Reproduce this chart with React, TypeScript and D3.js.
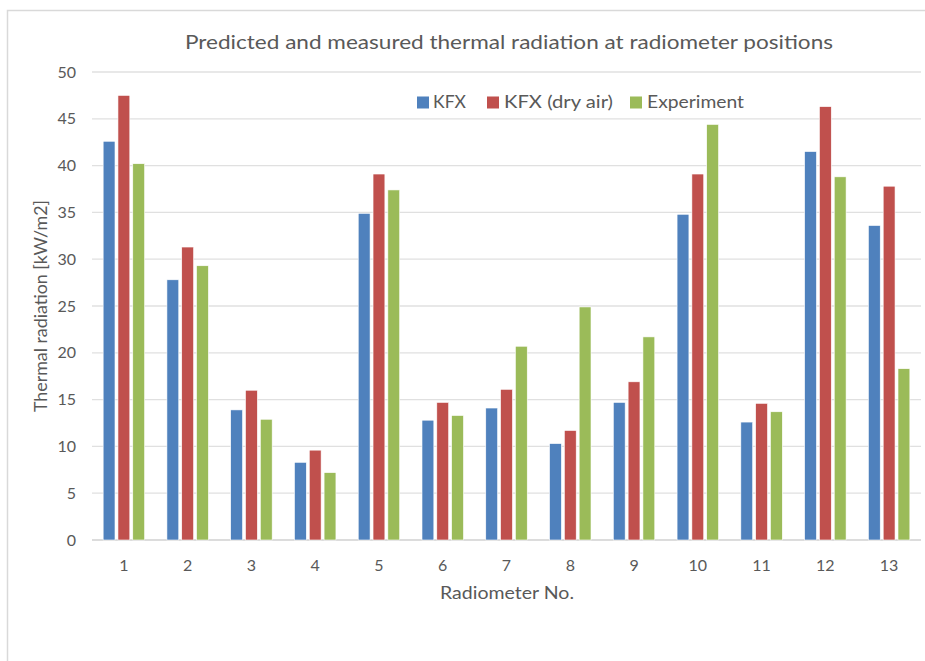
import React from "react";
import * as d3 from "d3";

// Radiometer positions 1..13
const radiometers = ["1", "2", "3", "4", "5", "6", "7", "8", "9", "10", "11", "12", "13"];
const seriesNames = ["KFX", "KFX (dry air)", "Experiment"];
const seriesColors = ["#4F81BD", "#C0504D", "#9BBB59"];

// Thermal radiation [kW/m2]
const kfx = [42.6, 27.8, 13.9, 8.3, 34.9, 12.8, 14.1, 10.3, 14.7, 34.8, 12.6, 41.5, 33.6];
const kfxDryAir = [47.5, 31.3, 16.0, 9.6, 39.1, 14.7, 16.1, 11.7, 16.9, 39.1, 14.6, 46.3, 37.8];
const experiment = [40.2, 29.3, 12.9, 7.2, 37.4, 13.3, 20.7, 24.9, 21.7, 44.4, 13.7, 38.8, 18.3];

const yTicks = [0, 5, 10, 15, 20, 25, 30, 35, 40, 45, 50];

const W = 925;
const H = 661;
const plot = { left: 92, right: 921, top: 72, bottom: 540 };
const FONT = "Lato, 'Open Sans', sans-serif";
const TEXT = "#595959";

export default function App() {
  const series = [kfx, kfxDryAir, experiment];

  const x0 = d3.scaleBand<string>().domain(radiometers).range([plot.left, plot.right]).padding(0);
  const x1 = d3
    .scaleBand<number>()
    .domain([0, 1, 2])
    .range([-23.7, 23.7])
    .padding(0.2);
  const y = d3.scaleLinear().domain([0, 50]).range([plot.bottom, plot.top]);

  const legend = [
    { sx: 417, tx: 433, len: 33 },
    { sx: 487, tx: 504, len: 109 },
    { sx: 630, tx: 647, len: 97 },
  ];

  return (
    <svg
      width={W}
      height={H}
      style={{ position: "absolute", left: 0, top: 0, background: "#fff" }}
      fontFamily={FONT}
    >
      <rect x={7.5} y={10.5} width={W + 10} height={H + 10} fill="#fff" stroke="#d9d9d9" strokeWidth={1.5} />

      <text
        x={509}
        y={49}
        textAnchor="middle"
        fontSize={20}
        fill={TEXT}
        textLength={648}
        lengthAdjust="spacingAndGlyphs"
      >
        Predicted and measured thermal radiation at radiometer positions
      </text>

      {/* gridlines and y tick labels */}
      {yTicks.map((t) => (
        <g key={t}>
          <line
            x1={plot.left}
            x2={plot.right}
            y1={y(t)}
            y2={y(t)}
            stroke={t === 0 ? "#d0d0d0" : "#e0e0e0"}
            strokeWidth={1.3}
          />
          <text x={76} y={y(t)} dy="0.35em" textAnchor="end" fontSize={16} fill={TEXT}>
            {t}
          </text>
        </g>
      ))}

      {/* bars */}
      {radiometers.map((r, i) => (
        <g key={r} transform={`translate(${x0(r)! + x0.bandwidth() / 2},0)`}>
          {series.map((vals, s) => (
            <rect
              key={s}
              x={x1(s)!}
              y={y(vals[i])}
              width={x1.bandwidth()}
              height={y(0) - y(vals[i])}
              fill={seriesColors[s]}
              stroke="#fff"
              strokeWidth={0.6}
            />
          ))}
          <text x={0} y={565} dy="0.35em" textAnchor="middle" fontSize={16} fill={TEXT}>
            {r}
          </text>
        </g>
      ))}

      {/* axis titles */}
      <text
        x={507}
        y={599}
        textAnchor="middle"
        fontSize={18}
        fill={TEXT}
        textLength={134}
        lengthAdjust="spacingAndGlyphs"
      >
        Radiometer No.
      </text>
      <text
        transform={`translate(47,${(plot.top + plot.bottom) / 2}) rotate(-90)`}
        textAnchor="middle"
        fontSize={17}
        fill={TEXT}
        textLength={212}
        lengthAdjust="spacingAndGlyphs"
      >
        Thermal radiation [kW/m2]
      </text>

      {/* legend */}
      {seriesNames.map((name, s) => (
        <g key={name}>
          <rect x={legend[s].sx} y={96.5} width={12} height={12} fill={seriesColors[s]} />
          <text
            x={legend[s].tx}
            y={102.5}
            dy="0.35em"
            fontSize={17}
            fill={TEXT}
            textLength={legend[s].len}
            lengthAdjust="spacingAndGlyphs"
          >
            {name}
          </text>
        </g>
      ))}
    </svg>
  );
}
